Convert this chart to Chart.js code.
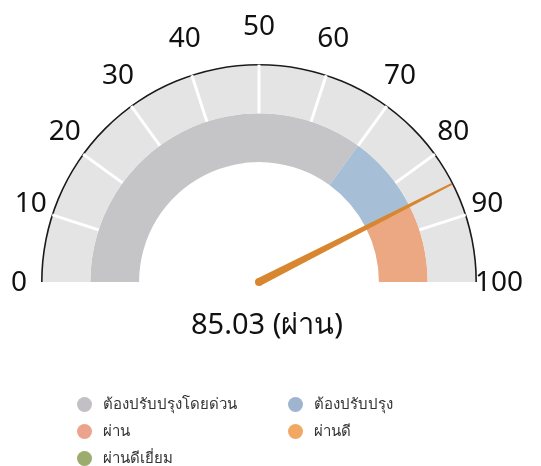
<!DOCTYPE html>
<html lang="th">
<head>
<meta charset="UTF-8">
<title>Gauge</title>
<script src="https://cdn.jsdelivr.net/npm/chart.js"></script>
<style>
  body { margin: 0; background: #fff; font-family: "Noto Sans", sans-serif; }
  #wrap { position: relative; width: 541px; height: 466px; }
  #legend { position: absolute; left: 77px; top: 393px; display: grid;
            grid-template-columns: 211px 200px; row-gap: 5px; font-size: 15px; color: #333; }
  .item { display: flex; align-items: center; height: 22px; }
  .dot { width: 15px; height: 15px; border-radius: 50%; margin-right: 11px; flex: none; }
</style>
</head>
<body>
<div id="wrap">
  <canvas id="gauge" width="541" height="466"></canvas>
  <div id="legend"></div>
</div>
<script>
// scale: 0..100 in steps of 10
const tickLabels = ['0', '10', '20', '30', '40', '50', '60', '70', '80', '90', '100'];
const scaleSteps = [10, 10, 10, 10, 10, 10, 10, 10, 10, 10];

// coloured band under the scale (edges in score units)
const bandEdges = [0, 70, 85.03, 100];
const bandColors = ['#c5c4c6', '#a7bfd6', '#eca883'];

const score = 85.03;
const scoreLabel = 'ผ่าน';

const legendNames = ['ต้องปรับปรุงโดยด่วน', 'ต้องปรับปรุง', 'ผ่าน', 'ผ่านดี', 'ผ่านดีเยี่ยม'];
const legendColors = ['#c3bfc6', '#9fb5cf', '#eca38c', '#f0a862', '#9cab6e'];

const bandValues = bandEdges.slice(1).map((e, i) => e - bandEdges[i]);
const scaleMax = scaleSteps.reduce((a, b) => a + b, 0);

const gaugeDecor = {
  id: 'gaugeDecor',
  afterDatasetsDraw(chart) {
    const ctx = chart.ctx;
    const rim = chart.getDatasetMeta(0).data[0];
    const ring = chart.getDatasetMeta(1).data;
    const first = ring[0], last = ring[ring.length - 1];
    const cx = first.x, cy = first.y;
    const rIn = first.innerRadius, rOut = first.outerRadius;
    const a0 = first.startAngle, a1 = last.endAngle;

    ctx.save();
    // white tick lines across the outer ring
    ctx.strokeStyle = '#ffffff';
    ctx.lineWidth = 3;
    for (let i = 1; i < ring.length; i++) {
      const a = ring[i].startAngle;
      ctx.beginPath();
      ctx.moveTo(cx + Math.cos(a) * rIn, cy + Math.sin(a) * rIn);
      ctx.lineTo(cx + Math.cos(a) * (rOut + 1), cy + Math.sin(a) * (rOut + 1));
      ctx.stroke();
    }

    // tick labels
    ctx.fillStyle = '#111';
    ctx.font = '28px "Noto Sans", sans-serif';
    ctx.textAlign = 'center';
    ctx.textBaseline = 'middle';
    const rx = rim.outerRadius + 22, ry = rim.outerRadius + 38;
    tickLabels.forEach((t, i) => {
      const a = i < ring.length ? ring[i].startAngle : last.endAngle;
      ctx.fillText(t, cx + Math.cos(a) * rx, cy + Math.sin(a) * ry + 1);
    });

    // needle
    const an = a0 + (a1 - a0) * score / scaleMax;
    const tip = rim.innerRadius;
    const nx = Math.cos(an), ny = Math.sin(an);
    const px = -ny, py = nx;
    ctx.fillStyle = '#d8862f';
    ctx.beginPath();
    ctx.moveTo(cx + px * 4, cy + py * 4);
    ctx.lineTo(cx + nx * tip + px * 1, cy + ny * tip + py * 1);
    ctx.lineTo(cx + nx * tip - px * 1, cy + ny * tip - py * 1);
    ctx.lineTo(cx - px * 4, cy - py * 4);
    ctx.closePath();
    ctx.fill();
    ctx.beginPath();
    ctx.arc(cx, cy, 4, 0, Math.PI * 2);
    ctx.fill();

    // value text
    ctx.fillStyle = '#111';
    ctx.font = '29px "Noto Sans", sans-serif';
    ctx.fillText(score.toFixed(2) + ' (' + scoreLabel + ')', cx + 8, cy + 44);
    ctx.restore();
  }
};

new Chart(document.getElementById('gauge'), {
  type: 'doughnut',
  data: {
    labels: tickLabels.slice(0, scaleSteps.length),
    datasets: [
      { data: [scaleMax], backgroundColor: ['#1a1a1a'], weight: 1.6 },
      { data: scaleSteps, backgroundColor: scaleSteps.map(() => '#e4e4e4'), weight: 47 },
      { data: bandValues, backgroundColor: bandColors, weight: 48 }
    ]
  },
  options: {
    responsive: false,
    animation: false,
    rotation: -90,
    circumference: 180,
    cutout: '55%',
    borderWidth: 0,
    layout: { padding: { left: 41, top: 64, right: 64, bottom: 184 } },
    plugins: { legend: { display: false }, tooltip: { enabled: false } }
  },
  plugins: [gaugeDecor]
});

const legend = document.getElementById('legend');
legendNames.forEach((name, i) => {
  const item = document.createElement('div');
  item.className = 'item';
  item.innerHTML = '<span class="dot" style="background:' + legendColors[i] + '"></span><span>' + name + '</span>';
  legend.appendChild(item);
});
</script>
</body>
</html>
